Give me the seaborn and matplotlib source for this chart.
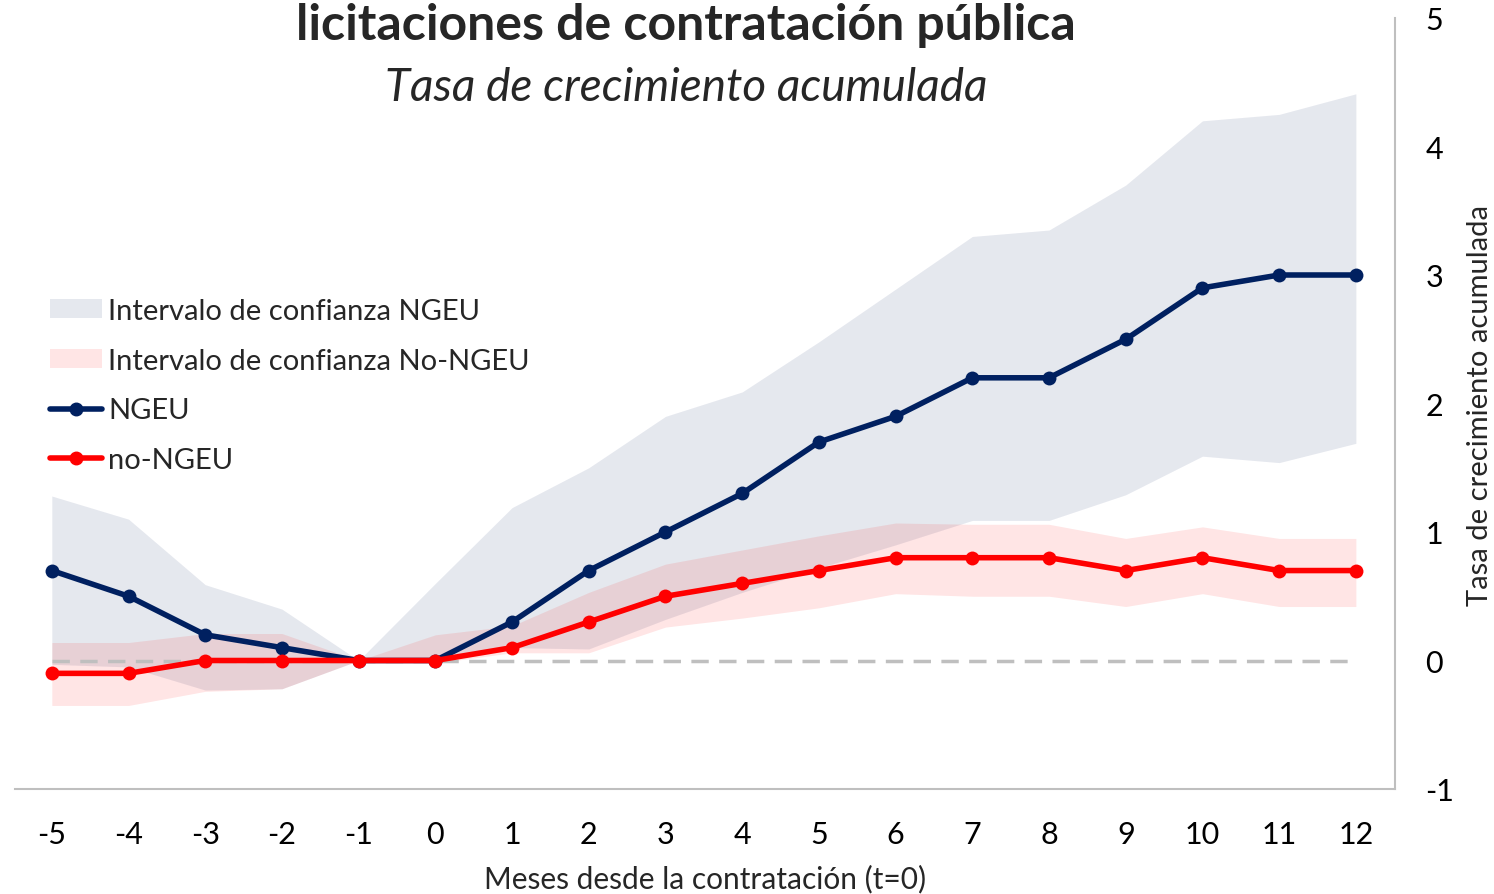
import numpy as np
import pandas as pd
import matplotlib
matplotlib.use("Agg")
import matplotlib.pyplot as plt
import seaborn as sns
from matplotlib.patches import Patch
from matplotlib.lines import Line2D

months = [-5, -4, -3, -2, -1, 0, 1, 2, 3, 4, 5, 6, 7, 8, 9, 10, 11, 12]
ngeu = [0.7, 0.5, 0.2, 0.1, 0.0, 0.0, 0.3, 0.7, 1.0, 1.3, 1.7, 1.9, 2.2, 2.2, 2.5, 2.9, 3.0, 3.0]
ngeu_upper = [1.28, 1.10, 0.59, 0.40, 0.0, 0.6, 1.19, 1.50, 1.90, 2.09, 2.48, 2.89, 3.30, 3.35, 3.70, 4.20, 4.25, 4.41]
ngeu_lower = [-0.03, -0.05, -0.23, -0.22, 0.0, 0.0, 0.10, 0.09, 0.32, 0.53, 0.72, 0.90, 1.09, 1.09, 1.29, 1.59, 1.54, 1.69]
no_ngeu = [-0.1, -0.1, 0.0, 0.0, 0.0, 0.0, 0.1, 0.3, 0.5, 0.6, 0.7, 0.8, 0.8, 0.8, 0.7, 0.8, 0.7, 0.7]
no_ngeu_upper = [0.14, 0.14, 0.21, 0.21, 0.0, 0.2, 0.27, 0.53, 0.75, 0.86, 0.97, 1.07, 1.06, 1.06, 0.95, 1.04, 0.95, 0.95]
no_ngeu_lower = [-0.35, -0.35, -0.24, -0.22, 0.0, -0.02, 0.06, 0.06, 0.26, 0.33, 0.41, 0.52, 0.50, 0.50, 0.42, 0.52, 0.42, 0.42]

x_ticks = list(range(-5, 13))
y_ticks = [-1, 0, 1, 2, 3, 4, 5]

title = "licitaciones de contratación pública"
subtitle = "Tasa de crecimiento acumulada"
xlabel = "Meses desde la contratación (t=0)"
ylabel = "Tasa de crecimiento acumulada"
labels = ["Intervalo de confianza NGEU", "Intervalo de confianza No-NGEU", "NGEU", "no-NGEU"]

NAVY = "#002060"
RED = "#ff0000"

sns.set_style("white")
plt.rcParams["font.family"] = ["Lato", "DejaVu Sans"]

df = pd.DataFrame({"mes": months * 2,
                   "valor": ngeu + no_ngeu,
                   "serie": ["NGEU"] * len(months) + ["no-NGEU"] * len(months)})

fig = plt.figure(figsize=(14.94, 8.95), dpi=100)
ax = fig.add_axes([15 / 1494, 1 - 790 / 895, 1380 / 1494, 771 / 895])

ax.fill_between(months, ngeu_lower, ngeu_upper, color=NAVY, alpha=0.10, linewidth=0)
ax.fill_between(months, no_ngeu_lower, no_ngeu_upper, color=RED, alpha=0.10, linewidth=0)
ax.plot([months[0], months[-1]], [0, 0], color="#bfbfbf", linestyle=(0, (5, 3)), linewidth=2.5, zorder=1.5)

sns.lineplot(data=df, x="mes", y="valor", hue="serie", palette={"NGEU": NAVY, "no-NGEU": RED},
             marker="o", markersize=10, markeredgewidth=0, linewidth=4.0, ax=ax, legend=False, zorder=3)

ax.set_xlim(-5.48, 12.51)
ax.set_ylim(-1, 5)
ax.set_xticks(x_ticks)
ax.set_xticklabels([str(v) for v in x_ticks])
ax.set_yticks(y_ticks)
ax.set_yticklabels([str(v) for v in y_ticks])
ax.yaxis.tick_right()
ax.yaxis.set_label_position("right")
ax.tick_params(axis="both", length=0, labelsize=22, colors="black")
ax.tick_params(axis="x", pad=22)
ax.tick_params(axis="y", pad=22)

for side in ["left", "top"]:
    ax.spines[side].set_visible(False)
for side in ["bottom", "right"]:
    ax.spines[side].set_color("#bfbfbf")
    ax.spines[side].set_linewidth(1.5)

ax.set_xlabel(xlabel, fontsize=21.5, labelpad=12)
ax.set_ylabel(ylabel, fontsize=21, rotation=90, va="center")
ax.yaxis.set_label_coords((1480 - 15) / 1380, (790 - 406) / 771)

fig.text(686 / 1494, 1 - 26 / 895, title, ha="center", va="center", fontsize=36, fontweight="bold")
fig.text(686 / 1494, 1 - 88 / 895, subtitle, ha="center", va="center", fontsize=33, style="italic")

handles = [Patch(facecolor=NAVY, alpha=0.10, edgecolor="none"),
           Patch(facecolor=RED, alpha=0.10, edgecolor="none"),
           Line2D([], [], color=NAVY, linewidth=4.0, marker="o", markersize=9),
           Line2D([], [], color=RED, linewidth=4.0, marker="o", markersize=9)]
ax.legend(handles, labels, loc="upper left", bbox_to_anchor=(23 / 1380, (790 - 287) / 771),
          frameon=False, fontsize=21, handlelength=1.8, handleheight=0.65, handletextpad=0.2,
          labelspacing=0.82, borderaxespad=0)

fig.savefig("out.png", dpi=100)
